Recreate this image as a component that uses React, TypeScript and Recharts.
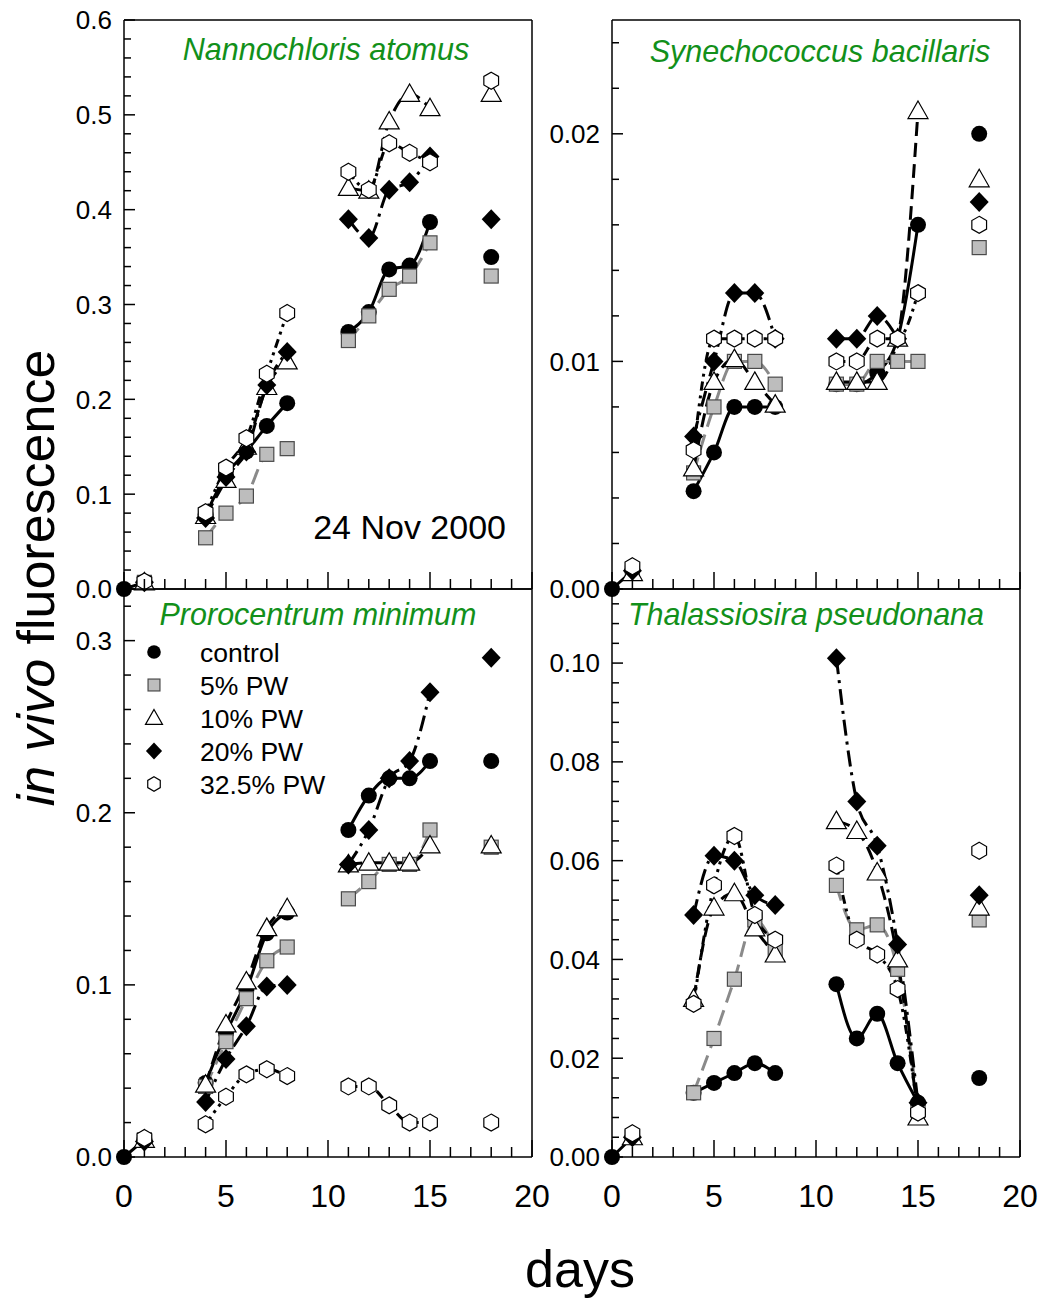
import { Line, LineChart, XAxis, YAxis } from 'recharts'

const FONT = '"Liberation Sans", Arial, Helvetica, sans-serif'
const GREEN = '#12901a'
const AXIS = { stroke: '#000', strokeWidth: 1.5 }

// sampling days; lines only join points of the same run
const DAYS = [0, 1, 4, 5, 6, 7, 8, 11, 12, 13, 14, 15, 18]
const RUN = [0, 0, 1, 1, 1, 1, 1, 2, 2, 2, 2, 2, 3]
const DAY_TICKS = [0, 1, 2, 3, 4, 5, 6, 7, 8, 9, 10, 11, 12, 13, 14, 15, 16, 17, 18, 19, 20]
const DAY_LABELS = [0, 5, 10, 15, 20]

// Nannochloris atomus
const NA_CONTROL = [0, 0.007, 0.078, 0.12, 0.145, 0.172, 0.196, 0.271, 0.292, 0.337, 0.341, 0.387, 0.35]
const NA_PW5 = [null, 0.007, 0.054, 0.08, 0.098, 0.142, 0.148, 0.262, 0.288, 0.316, 0.33, 0.365, 0.33]
const NA_PW10 = [null, 0.007, 0.077, 0.115, 0.15, 0.213, 0.24, 0.423, 0.42, 0.493, 0.522, 0.507, 0.522]
const NA_PW20 = [null, 0.007, 0.075, 0.118, 0.145, 0.215, 0.25, 0.39, 0.37, 0.421, 0.429, 0.456, 0.39]
const NA_PW325 = [null, 0.008, 0.081, 0.128, 0.159, 0.227, 0.291, 0.44, 0.421, 0.47, 0.46, 0.45, 0.536]

// Synechococcus bacillaris
const SB_CONTROL = [0, 0.0008, 0.0043, 0.006, 0.008, 0.008, 0.008, 0.009, 0.009, 0.0095, 0.011, 0.016, 0.02]
const SB_PW5 = [null, 0.0007, 0.0051, 0.008, 0.01, 0.01, 0.009, 0.009, 0.009, 0.01, 0.01, 0.01, 0.015]
const SB_PW10 = [null, 0.0007, 0.0053, 0.0091, 0.0101, 0.0091, 0.0081, 0.0091, 0.0091, 0.0091, 0.011, 0.021, 0.018]
const SB_PW20 = [null, 0.0008, 0.0067, 0.01, 0.013, 0.013, 0.011, 0.011, 0.011, 0.012, 0.011, null, 0.017]
const SB_PW325 = [null, 0.001, 0.0061, 0.011, 0.011, 0.011, 0.011, 0.01, 0.01, 0.011, 0.011, 0.013, 0.016]

// Prorocentrum minimum
const PM_CONTROL = [0, 0.01, 0.043, 0.072, 0.097, 0.13, 0.142, 0.19, 0.21, 0.22, 0.22, 0.23, 0.23]
const PM_PW5 = [null, 0.01, 0.041, 0.067, 0.092, 0.114, 0.122, 0.15, 0.16, 0.17, 0.17, 0.19, 0.18]
const PM_PW10 = [null, 0.01, 0.042, 0.077, 0.102, 0.133, 0.1445, 0.17, 0.171, 0.171, 0.171, 0.181, 0.181]
const PM_PW20 = [null, 0.009, 0.032, 0.057, 0.076, 0.099, 0.1, 0.17, 0.19, 0.22, 0.23, 0.27, 0.29]
const PM_PW325 = [null, 0.011, 0.019, 0.035, 0.048, 0.051, 0.047, 0.041, 0.041, 0.03, 0.02, 0.02, 0.02]

// Thalassiosira pseudonana
const TP_CONTROL = [0, 0.004, 0.013, 0.015, 0.017, 0.019, 0.017, 0.035, 0.024, 0.029, 0.019, 0.011, 0.016]
const TP_PW5 = [null, 0.004, 0.013, 0.024, 0.036, 0.048, 0.042, 0.055, 0.046, 0.047, 0.038, 0.01, 0.048]
const TP_PW10 = [null, 0.004, 0.032, 0.0505, 0.0534, 0.0463, 0.041, 0.068, 0.066, 0.0576, 0.04, 0.008, 0.0505]
const TP_PW20 = [null, 0.004, 0.049, 0.061, 0.06, 0.053, 0.051, 0.101, 0.072, 0.063, 0.043, 0.011, 0.053]
const TP_PW325 = [null, 0.0048, 0.031, 0.055, 0.065, 0.049, 0.044, 0.059, 0.044, 0.041, 0.034, 0.009, 0.062]

type Shape = 'circle' | 'square' | 'triangle' | 'diamond' | 'hexagon'

const SERIES: { key: string; name: string; shape: Shape; stroke: string; dash?: string }[] = [
  { key: 'control', name: 'control', shape: 'circle', stroke: '#000' },
  { key: 'pw5', name: '5% PW', shape: 'square', stroke: '#8a8a8a', dash: '16 8' },
  { key: 'pw10', name: '10% PW', shape: 'triangle', stroke: '#000', dash: '14 7' },
  { key: 'pw20', name: '20% PW', shape: 'diamond', stroke: '#000', dash: '16 6 3 6' },
  { key: 'pw325', name: '32.5% PW', shape: 'hexagon', stroke: '#000', dash: '9 5 3 5 3 5' },
]

function buildRows(cols: Record<string, (number | null)[]>) {
  const rows: any[] = []
  const empty = () => {
    const r: any = {}
    for (const k in cols) r[k] = null
    return r
  }
  DAYS.forEach((day, i) => {
    if (i > 0 && RUN[i] !== RUN[i - 1]) rows.push({ day: (DAYS[i - 1] + day) / 2, ...empty() })
    const row: any = { day }
    for (const k in cols) row[k] = cols[k][i]
    rows.push(row)
  })
  return rows
}

const steps = (max: number, step: number) =>
  Array.from({ length: Math.floor(max / step + 1e-6) + 1 }, (_, i) => +(i * step).toFixed(6))

function Marker({ shape, cx, cy, s = 1 }: { shape: Shape; cx: number; cy: number; s?: number }) {
  if (shape === 'circle') return <circle cx={cx} cy={cy} r={8 * s} fill="#000" />
  if (shape === 'square')
    return (
      <rect x={cx - 7 * s} y={cy - 7 * s} width={14 * s} height={14 * s}
        fill="#bdbdbd" stroke="#4a4a4a" strokeWidth={1.2} />
    )
  if (shape === 'triangle') {
    const p = `${cx},${cy - 10 * s} ${cx + 10 * s},${cy + 7.5 * s} ${cx - 10 * s},${cy + 7.5 * s}`
    return <polygon points={p} fill="#fff" stroke="#000" strokeWidth={1.2} />
  }
  if (shape === 'diamond') {
    const p = `${cx},${cy - 10 * s} ${cx + 9.5 * s},${cy} ${cx},${cy + 10 * s} ${cx - 9.5 * s},${cy}`
    return <polygon points={p} fill="#000" />
  }
  const r = 8.5 * s
  const p = [-90, -30, 30, 90, 150, 210]
    .map((a) => `${cx + r * Math.cos((a * Math.PI) / 180)},${cy + r * Math.sin((a * Math.PI) / 180)}`)
    .join(' ')
  return <polygon points={p} fill="#fff" stroke="#000" strokeWidth={1.2} />
}

const dotFor = (shape: Shape) => (props: any) => {
  const { cx, cy, index, value } = props
  if (cy == null || cx == null || value == null || Number.isNaN(cy)) return <g key={`e-${index}`} />
  return (
    <g key={`d-${index}`}>
      <Marker shape={shape} cx={cx} cy={cy} />
    </g>
  )
}

const xTick = (showLabels: boolean) => (p: any) => {
  const v = p.payload.value
  const major = DAY_LABELS.includes(v)
  return (
    <g>
      <line x1={p.x} x2={p.x} y1={p.y} y2={p.y - (major ? 17 : 10)} stroke="#000" strokeWidth={1.5} />
      {showLabels && major && (
        <text x={p.x} y={p.y + 50} textAnchor="middle" fontSize={32} fontFamily={FONT} fill="#000">
          {v}
        </text>
      )}
    </g>
  )
}

const isLabel = (labels: number[], v: number) => labels.some((l) => Math.abs(l - v) < 1e-9)

const yTickLeft = (labels: number[], digits: number) => (p: any) => {
  const v = p.payload.value
  const major = isLabel(labels, v)
  return (
    <g>
      <line x1={p.x} x2={p.x + (major ? 11 : 7)} y1={p.y} y2={p.y} stroke="#000" strokeWidth={1.5} />
      {major && (
        <text x={p.x - 12} y={p.y} dy="0.36em" textAnchor="end" fontSize={26} fontFamily={FONT} fill="#000">
          {v.toFixed(digits)}
        </text>
      )}
    </g>
  )
}

const yTickRight = (labels: number[]) => (p: any) => {
  const major = isLabel(labels, p.payload.value)
  return <line x1={p.x} x2={p.x - (major ? 11 : 7)} y1={p.y} y2={p.y} stroke="#000" strokeWidth={1.5} />
}

function Panel({
  left, top, h, rows, yMax, yTicks, yLabels, digits, xLabels,
}: {
  left: number; top: number; h: number; rows: any[]; yMax: number
  yTicks: number[]; yLabels: number[]; digits: number; xLabels: boolean
}) {
  return (
    <div style={{ position: 'absolute', left: left - 80, top: top - 21 }}>
      <LineChart width={519} height={h + 81} data={rows} margin={{ top: 20, right: 30, bottom: 0, left: 0 }}>
        <XAxis xAxisId="b" type="number" dataKey="day" domain={[0, 20]} ticks={DAY_TICKS} interval={0}
          height={60} tickSize={0} tickMargin={0} tickLine={false} axisLine={AXIS} tick={xTick(xLabels)} />
        <XAxis xAxisId="t" orientation="top" type="number" dataKey="day" domain={[0, 20]} height={1}
          tick={false} tickLine={false} axisLine={AXIS} />
        <YAxis yAxisId="l" type="number" domain={[0, yMax]} ticks={yTicks} interval={0} width={80}
          tickSize={0} tickMargin={0} tickLine={false} axisLine={AXIS} tick={yTickLeft(yLabels, digits)} />
        <YAxis yAxisId="r" orientation="right" type="number" domain={[0, yMax]} ticks={yTicks} interval={0}
          width={1} tickSize={0} tickMargin={0} tickLine={false} axisLine={AXIS} tick={yTickRight(yLabels)} />
        {SERIES.map((s) => (
          <Line key={s.key} xAxisId="b" yAxisId="l" dataKey={s.key} type="monotone" stroke={s.stroke}
            strokeWidth={3} strokeDasharray={s.dash} connectNulls={false} dot={dotFor(s.shape)}
            activeDot={false} isAnimationActive={false} />
        ))}
      </LineChart>
    </div>
  )
}

function Overlay() {
  const title = { fontSize: 30.5, fontStyle: 'italic', fill: GREEN, textAnchor: 'middle' as const }
  return (
    <svg width={1041} height={1301} style={{ position: 'absolute', left: 0, top: 0, pointerEvents: 'none' }}
      fontFamily={FONT}>
      <text x={326} y={60} {...title}>Nannochloris atomus</text>
      <text x={820} y={62} {...title}>Synechococcus bacillaris</text>
      <text x={318} y={625} {...title}>Prorocentrum minimum</text>
      <text x={806} y={625} {...title}>Thalassiosira pseudonana</text>
      <text x={506} y={539} fontSize={34} textAnchor="end" fill="#000">24 Nov 2000</text>
      {SERIES.map((s, i) => (
        <g key={s.key}>
          <Marker shape={s.shape} cx={154} cy={652 + i * 33} s={0.85} />
          <text x={200} y={652 + i * 33} dy="0.36em" fontSize={26.5} fill="#000">{s.name}</text>
        </g>
      ))}
      <text transform="translate(54,578) rotate(-90)" fontSize={52} textAnchor="middle" fill="#000">
        <tspan fontStyle="italic">in vivo</tspan> fluorescence
      </text>
      <text x={580} y={1287} fontSize={52} textAnchor="middle" fill="#000">days</text>
    </svg>
  )
}

export default function App() {
  const na = buildRows({ control: NA_CONTROL, pw5: NA_PW5, pw10: NA_PW10, pw20: NA_PW20, pw325: NA_PW325 })
  const sb = buildRows({ control: SB_CONTROL, pw5: SB_PW5, pw10: SB_PW10, pw20: SB_PW20, pw325: SB_PW325 })
  const pm = buildRows({ control: PM_CONTROL, pw5: PM_PW5, pw10: PM_PW10, pw20: PM_PW20, pw325: PM_PW325 })
  const tp = buildRows({ control: TP_CONTROL, pw5: TP_PW5, pw10: TP_PW10, pw20: TP_PW20, pw325: TP_PW325 })
  return (
    <div style={{ position: 'absolute', left: 0, top: 0, width: 1041, height: 1301, background: '#fff' }}>
      <Panel left={124} top={20} h={569} rows={na} yMax={0.6} yTicks={steps(0.6, 0.02)}
        yLabels={[0, 0.1, 0.2, 0.3, 0.4, 0.5, 0.6]} digits={1} xLabels={false} />
      <Panel left={612} top={20} h={569} rows={sb} yMax={0.025} yTicks={steps(0.024, 0.002)}
        yLabels={[0, 0.01, 0.02]} digits={2} xLabels={false} />
      <Panel left={124} top={589} h={568} rows={pm} yMax={0.33} yTicks={steps(0.32, 0.02)}
        yLabels={[0, 0.1, 0.2, 0.3]} digits={1} xLabels />
      <Panel left={612} top={589} h={568} rows={tp} yMax={0.115} yTicks={steps(0.112, 0.004)}
        yLabels={[0, 0.02, 0.04, 0.06, 0.08, 0.1]} digits={2} xLabels />
      <Overlay />
    </div>
  )
}
